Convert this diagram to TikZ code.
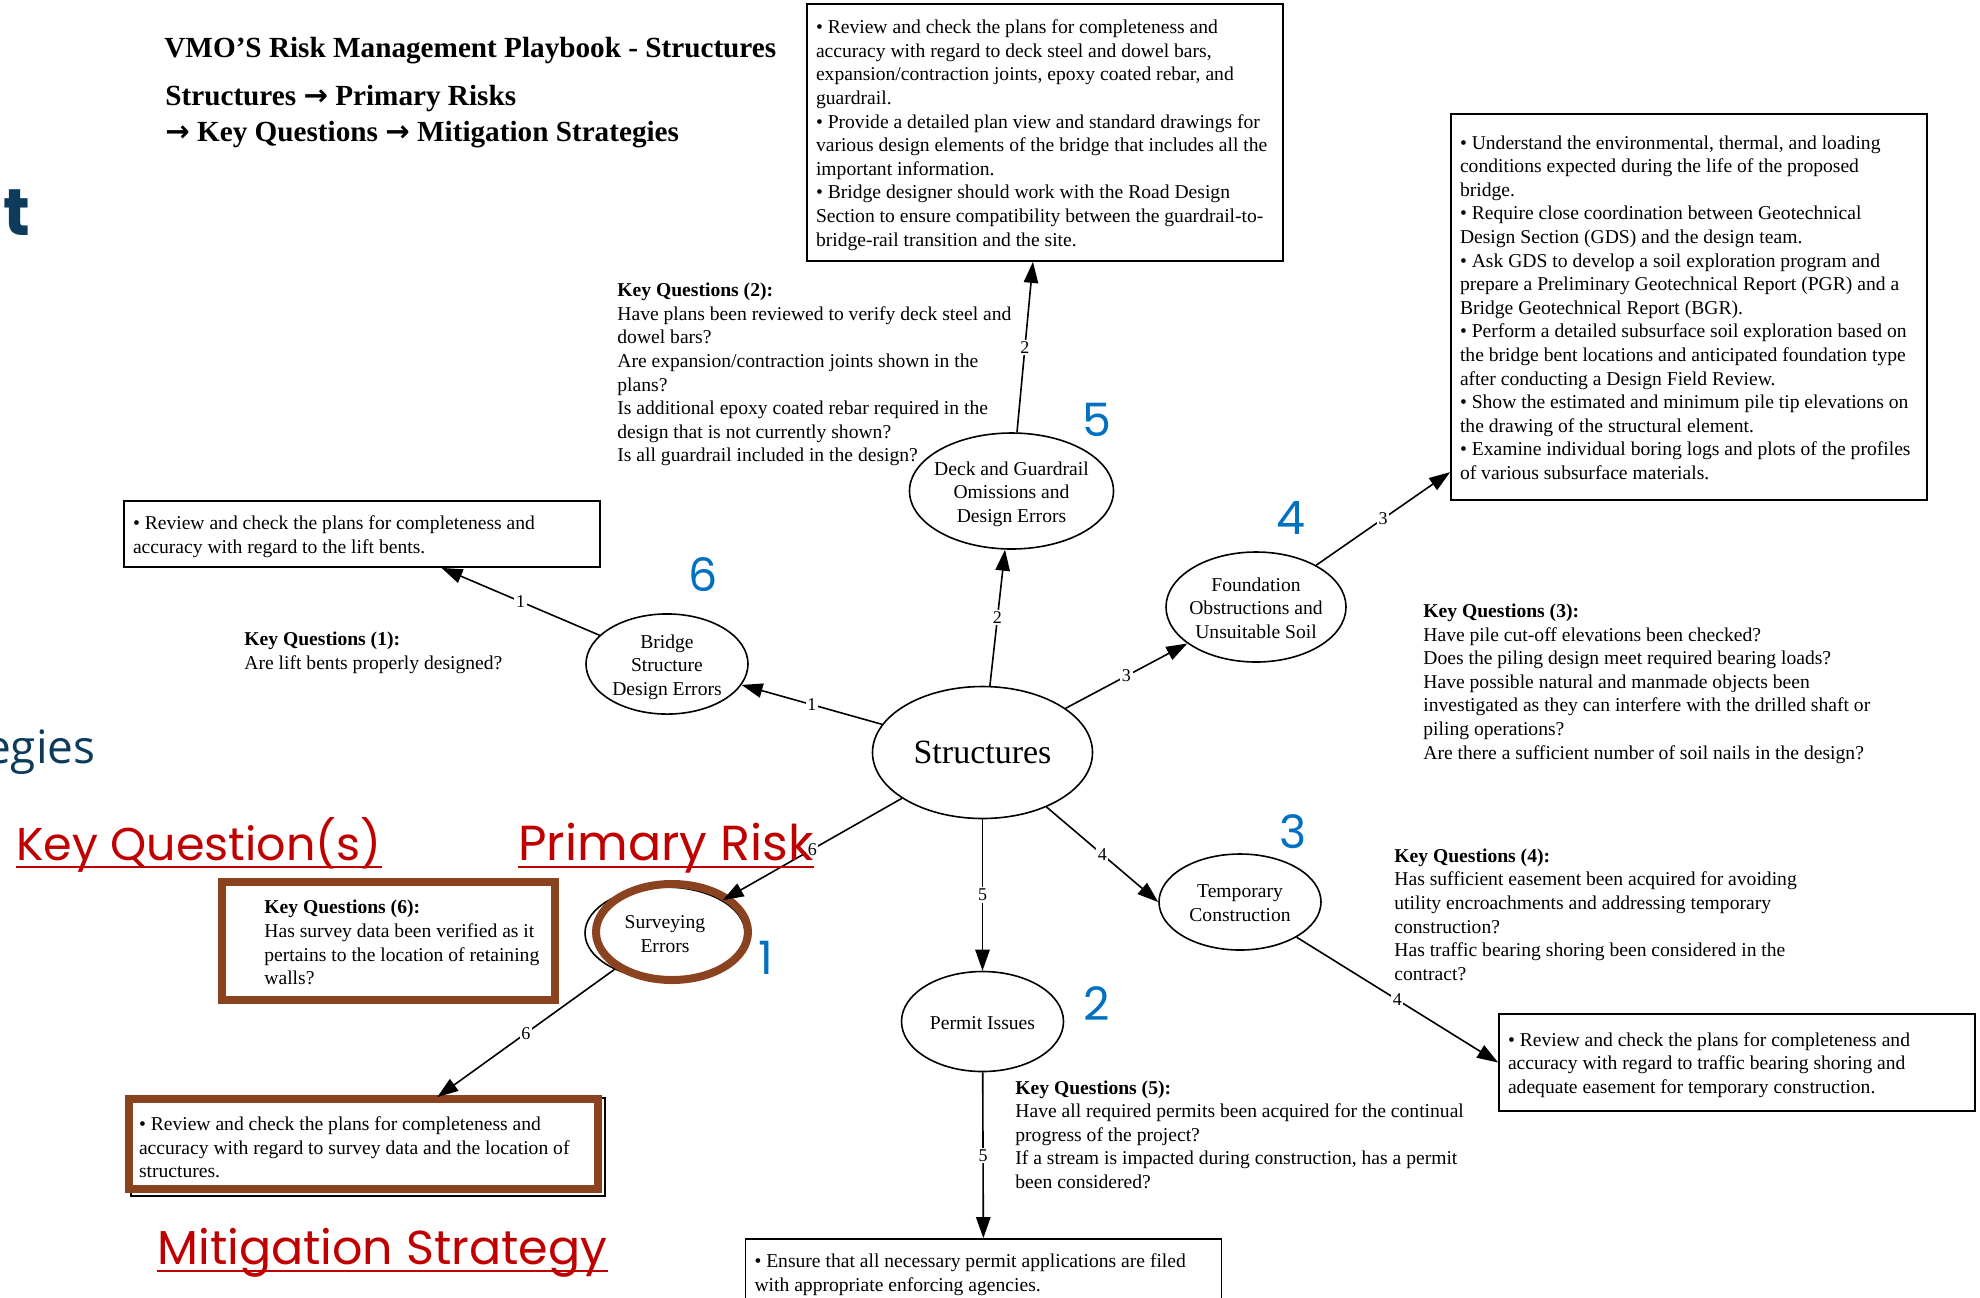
\documentclass[tikz,border=0pt]{standalone}
\usepackage{fontspec}
\setmainfont{Liberation Serif}
\newfontfamily\poppins{Poppins}
\newfontfamily\opensans{Open Sans}
\newfontfamily\dejavu{DejaVu Sans}
\usetikzlibrary{shapes.geometric,arrows.meta}
\definecolor{vblue}{RGB}{0,112,192}
\definecolor{vred}{RGB}{192,0,0}
\definecolor{vbrown}{RGB}{139,66,30}
\definecolor{vnavy}{RGB}{12,59,92}
\newcommand\gvfont{\fontsize{9.8}{11.8}\selectfont}
\newcommand\gvlines[1]{\raisebox{-1.3pt}[\height][\depth]{\begin{tabular}{@{}l@{}}#1\end{tabular}}}
\newcommand\gvclines[1]{\makebox[0pt]{\raisebox{-1.5pt}[\height][\depth]{\begin{tabular}{@{}c@{}}#1\end{tabular}}}}
\newcommand\gvboxtext[1]{\makebox[229pt][l]{\gvlines{#1}}}
\newcommand\rarr{{\dejavu\bfseries →}}
\begin{document}
\begin{tikzpicture}[x=0.5pt,y=-0.5pt,
  ell/.style={draw, ellipse, line width=0.8pt, inner sep=0pt, font=\gvfont},
  gvbox/.style={draw, rectangle, line width=0.9pt, inner sep=0pt, minimum width=238pt, font=\gvfont},
  txt/.style={inner sep=0pt, font=\gvfont, anchor=west},
  conn/.style={-{Triangle[length=10.5pt,width=7.2pt]}, line width=0.8pt},
  elab/.style={fill=white, inner sep=0.8pt, font=\fontsize{9}{10}\selectfont},
  bnum/.style={text=vblue, font=\poppins\fontsize{23}{23}\selectfont, inner sep=0pt},
  redlab/.style={text=vred, inner sep=0pt, anchor=base west},
  hl/.style={draw=vbrown, line width=4pt}
]
\useasboundingbox (0,0) rectangle (1980,1297);
\clip (0,0) rectangle (1980,1297);

% slide fragments at left edge
\node[anchor=base east, inner sep=0pt, text=vnavy, font=\poppins\bfseries\fontsize{33}{36}\selectfont] (frag1) at (31,235) {nt};
\node[anchor=base east, inner sep=0pt, text=vnavy, font=\opensans\fontsize{23}{26}\selectfont] (frag2) at (96,763) {Strategies};

% title
\node[anchor=west, inner sep=0pt, font=\fontsize{14.6}{18}\selectfont\bfseries] (title) at (164,51) {VMO’S Risk Management Playbook - Structures};
\node[anchor=west, inner sep=0pt, font=\fontsize{14.6}{18}\selectfont\bfseries] (subtitle) at (165,114) {\gvlines{Structures \rarr\ Primary Risks\\ \rarr\ Key Questions \rarr\ Mitigation Strategies}};

% mitigation boxes
\node[gvbox, minimum height=128.5pt] (deckbox) at (1045,132.5) {\gvboxtext{%
• Review and check the plans for completeness and\\
accuracy with regard to deck steel and dowel bars,\\
expansion/contraction joints, epoxy coated rebar, and\\
guardrail.\\
• Provide a detailed plan view and standard drawings for\\
various design elements of the bridge that includes all the\\
important information.\\
• Bridge designer should work with the Road Design\\
Section to ensure compatibility between the guardrail-to-\\
bridge-rail transition and the site.}};

\node[gvbox, minimum height=193pt] (foundbox) at (1689,307) {\gvboxtext{%
• Understand the environmental, thermal, and loading\\
conditions expected during the life of the proposed\\
bridge.\\
• Require close coordination between Geotechnical\\
Design Section (GDS) and the design team.\\
• Ask GDS to develop a soil exploration program and\\
prepare a Preliminary Geotechnical Report (PGR) and a\\
Bridge Geotechnical Report (BGR).\\
• Perform a detailed subsurface soil exploration based on\\
the bridge bent locations and anticipated foundation type\\
after conducting a Design Field Review.\\
• Show the estimated and minimum pile tip elevations on\\
the drawing of the structural element.\\
• Examine individual boring logs and plots of the profiles\\
of various subsurface materials.}};

\node[gvbox, minimum height=33pt] (liftbox) at (362,534) {\gvboxtext{%
• Review and check the plans for completeness and\\
accuracy with regard to the lift bents.}};

\node[gvbox, minimum height=48.5pt] (tempbox) at (1737,1062.5) {\gvboxtext{%
• Review and check the plans for completeness and\\
accuracy with regard to traffic bearing shoring and\\
adequate easement for temporary construction.}};

\node[gvbox, minimum height=33pt] (permitbox) at (983.5,1272) {\gvboxtext{%
• Ensure that all necessary permit applications are filed\\
with appropriate enforcing agencies.}};

\node[gvbox, minimum width=237pt, minimum height=49pt] (survbox) at (368,1147) {\gvboxtext{%
• Review and check the plans for completeness and\\
accuracy with regard to survey data and the location of\\
structures.}};

% key questions
\node[txt] (kq2) at (617,372) {\gvlines{\textbf{Key Questions (2):}\\
Have plans been reviewed to verify deck steel and\\
dowel bars?\\
Are expansion/contraction joints shown in the\\
plans?\\
Is additional epoxy coated rebar required in the\\
design that is not currently shown?\\
Is all guardrail included in the design?}};

\node[txt] (kq1) at (244,650) {\gvlines{\textbf{Key Questions (1):}\\
Are lift bents properly designed?}};

\node[txt] (kq3) at (1423,681) {\gvlines{\textbf{Key Questions (3):}\\
Have pile cut-off elevations been checked?\\
Does the piling design meet required bearing loads?\\
Have possible natural and manmade objects been\\
investigated as they can interfere with the drilled shaft or\\
piling operations?\\
Are there a sufficient number of soil nails in the design?}};

\node[txt] (kq4) at (1394,914) {\gvlines{\textbf{Key Questions (4):}\\
Has sufficient easement been acquired for avoiding\\
utility encroachments and addressing temporary\\
construction?\\
Has traffic bearing shoring been considered in the\\
contract?}};

\node[txt] (kq5) at (1015,1134) {\gvlines{\textbf{Key Questions (5):}\\
Have all required permits been acquired for the continual\\
progress of the project?\\
If a stream is impacted during construction, has a permit\\
been considered?}};

\node[txt] (kq6) at (264,942) {\gvlines{\textbf{Key Questions (6):}\\
Has survey data been verified as it\\
pertains to the location of retaining\\
walls?}};

% risk ellipses
\node[ell, minimum width=110pt, minimum height=66pt, font=\fontsize{17}{20}\selectfont] (structures) at (982.5,752.5) {\gvclines{Structures}};
\node[ell, minimum width=102pt, minimum height=58pt] (deck) at (1011.5,491) {\gvclines{Deck and Guardrail\\ Omissions and\\ Design Errors}};
\node[ell, minimum width=81pt, minimum height=49pt] (bridge) at (667,664) {\gvclines{Bridge\\ Structure\\ Design Errors}};
\node[ell, minimum width=90pt, minimum height=55pt] (found) at (1256,607) {\gvclines{Foundation\\ Obstructions and\\ Unsuitable Soil}};
\node[ell, minimum width=81pt, minimum height=48pt] (temp) at (1240,902) {\gvclines{Temporary\\ Construction}};
\node[ell, minimum width=81pt, minimum height=50pt] (permit) at (982.5,1021.5) {\gvclines{Permit Issues}};
\node[ell, minimum width=80pt, minimum height=46pt] (survey) at (665,933) {\gvclines{Surveying\\ Errors}};

% brown highlights
\draw[hl] (129,1099) rectangle (598,1189);
\draw[hl] (222,882) rectangle (555,1000);
\draw[hl] (672,932) ellipse [x radius=38pt, y radius=24pt];

% connectors
\draw[conn] (structures) -- node[elab]{1} (bridge);
\draw[conn] (bridge) -- node[elab]{1} (liftbox);
\draw[conn] (structures) -- node[elab]{2} (deck);
\draw[conn] (deck) -- node[elab]{2} (deckbox);
\draw[conn] (structures) -- node[elab]{3} (found);
\draw[conn] (found) -- node[elab]{3} (foundbox);
\draw[conn] (structures) -- node[elab]{4} (temp.west);
\draw[conn] (temp) -- node[elab]{4} (tempbox.west);
\draw[conn] (structures) -- node[elab]{5} (permit);
\draw[conn] (permit) -- node[elab]{5} (permitbox);
\draw[conn] (structures) -- node[elab]{6} (survey);
\draw[conn] (survey) -- node[elab]{6} (survbox);

% blue numbers
\node[bnum] (n5) at (1097,420) {5};
\node[bnum] (n6) at (703,575) {6};
\node[bnum] (n4) at (1291,518) {4};
\node[bnum] (n3) at (1293,832) {3};
\node[bnum] (n2) at (1097,1004) {2};
\node[bnum] (n1) at (766,958) {1};

% red labels
\node[redlab, font=\poppins\fontsize{23}{26}\selectfont] (rlkq) at (16,860) {Key Question(s)};
\draw[vred, line width=1.2pt] ([yshift=-3.5pt]rlkq.base west) -- ([yshift=-3.5pt]rlkq.base east);
\node[redlab, font=\poppins\fontsize{24.6}{26}\selectfont] (rlpr) at (518,860) {Primary Risk};
\draw[vred, line width=1.2pt] ([yshift=-3.5pt]rlpr.base west) -- ([yshift=-3.5pt]rlpr.base east);
\node[redlab, font=\poppins\fontsize{23.8}{26}\selectfont] (rlms) at (157,1264) {Mitigation Strategy};
\draw[vred, line width=1.2pt] ([yshift=-3.5pt]rlms.base west) -- ([yshift=-3.5pt]rlms.base east);
\end{tikzpicture}
\end{document}
